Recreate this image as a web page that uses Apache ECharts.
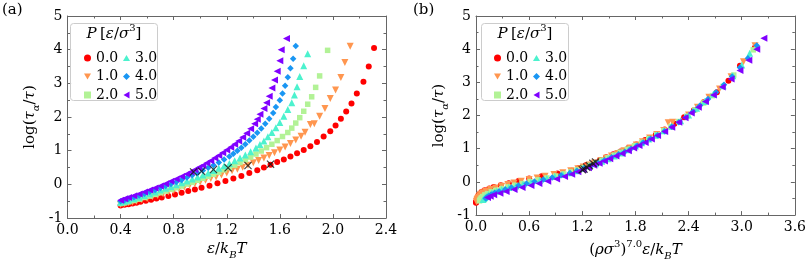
<!DOCTYPE html>
<html><head><meta charset="utf-8">
<script src="https://cdn.jsdelivr.net/npm/echarts@6/dist/echarts.min.js"></script>
<style>html,body{margin:0;padding:0;background:#fff}#c{width:809px;height:266px}</style>
</head><body><div id="c"></div>
<script>
// ---------------- data ----------------
const P_LABELS = ['0.0','1.0','2.0','3.0','4.0','5.0'];

// P = 0.0
const y_P0  = [-0.63,-0.61,-0.59,-0.57,-0.55,-0.52,-0.49,-0.46,-0.42,-0.39,-0.35,-0.30,-0.25,-0.20,-0.15,-0.10,-0.04,0.03,0.10,0.17,0.25,0.34,0.42,0.50,0.58,0.66,0.74,0.83,0.92,1.02,1.13,1.26,1.42,1.58,1.75,1.95,2.16,2.40,2.70,3.05,3.50,4.05];
const xa_P0 = [0.40,0.43,0.46,0.49,0.52,0.55,0.59,0.63,0.67,0.71,0.76,0.81,0.86,0.91,0.96,1.01,1.07,1.13,1.19,1.25,1.31,1.37,1.43,1.48,1.53,1.58,1.63,1.68,1.73,1.78,1.83,1.88,1.93,1.98,2.02,2.06,2.10,2.14,2.18,2.23,2.27,2.31];
const xb_P0 = [0.000,0.002,0.004,0.007,0.009,0.012,0.016,0.019,0.026,0.035,0.045,0.068,0.10,0.15,0.20,0.28,0.37,0.48,0.60,0.74,0.92,1.08,1.16,1.24,1.33,1.40,1.47,1.55,1.63,1.72,1.81,1.91,2.03,2.13,2.24,2.35,2.46,2.57,2.72,2.85,2.98,3.15];
// P = 1.0
const y_P1  = [-0.60,-0.58,-0.55,-0.53,-0.50,-0.46,-0.42,-0.37,-0.33,-0.28,-0.23,-0.18,-0.13,-0.08,-0.03,0.02,0.07,0.12,0.17,0.22,0.28,0.34,0.40,0.45,0.51,0.57,0.64,0.71,0.78,0.86,0.94,1.02,1.11,1.21,1.32,1.43,1.55,1.78,1.80,2.02,2.25,2.55,2.80,3.17,3.62,4.10];
const xa_P1 = [0.40,0.43,0.46,0.49,0.52,0.56,0.60,0.64,0.68,0.72,0.76,0.80,0.84,0.88,0.92,0.96,1.00,1.04,1.08,1.12,1.16,1.20,1.24,1.28,1.32,1.36,1.40,1.44,1.48,1.52,1.56,1.60,1.64,1.68,1.72,1.76,1.79,1.83,1.86,1.90,1.94,1.98,2.02,2.06,2.09,2.13];
const xb_P1 = [0.005,0.008,0.012,0.015,0.02,0.03,0.04,0.055,0.075,0.11,0.16,0.22,0.29,0.36,0.43,0.51,0.60,0.69,0.78,0.88,0.98,1.07,1.15,1.21,1.28,1.34,1.41,1.47,1.53,1.60,1.67,1.74,1.81,1.88,1.96,2.04,2.12,2.17,2.22,2.40,2.50,2.63,2.75,2.88,3.02,3.15];
// P = 2.0
const y_P2  = [-0.57,-0.55,-0.52,-0.48,-0.44,-0.39,-0.35,-0.30,-0.25,-0.20,-0.15,-0.10,-0.05,0.01,0.06,0.12,0.18,0.24,0.30,0.36,0.43,0.50,0.57,0.65,0.73,0.81,0.90,0.99,1.09,1.19,1.30,1.42,1.54,1.67,1.82,1.98,2.17,2.38,2.60,2.88,3.22,3.98];
const xa_P2 = [0.40,0.43,0.46,0.50,0.54,0.58,0.62,0.66,0.70,0.74,0.78,0.82,0.86,0.90,0.94,0.98,1.02,1.06,1.10,1.14,1.18,1.22,1.26,1.30,1.34,1.38,1.42,1.46,1.50,1.54,1.58,1.62,1.66,1.69,1.72,1.75,1.78,1.81,1.84,1.87,1.90,1.96];
const xb_P2 = [0.04,0.045,0.05,0.06,0.075,0.10,0.13,0.17,0.22,0.29,0.36,0.44,0.52,0.61,0.70,0.80,0.90,0.99,1.07,1.14,1.21,1.28,1.35,1.42,1.49,1.56,1.63,1.71,1.79,1.87,1.95,2.04,2.12,2.20,2.29,2.38,2.47,2.57,2.67,2.79,2.91,3.13];
// P = 3.0
const y_P3  = [-0.53,-0.50,-0.47,-0.43,-0.38,-0.33,-0.28,-0.23,-0.17,-0.12,-0.07,-0.01,0.05,0.10,0.16,0.22,0.28,0.34,0.41,0.48,0.55,0.62,0.70,0.78,0.87,0.97,1.08,1.18,1.29,1.41,1.54,1.68,1.84,2.02,2.22,2.42,2.65,2.90,3.20,3.52,3.88];
const xa_P3 = [0.40,0.43,0.46,0.50,0.54,0.58,0.62,0.66,0.70,0.74,0.78,0.82,0.86,0.90,0.94,0.98,1.02,1.06,1.10,1.14,1.18,1.22,1.26,1.30,1.34,1.38,1.42,1.45,1.48,1.51,1.54,1.57,1.60,1.63,1.66,1.69,1.71,1.73,1.75,1.78,1.81];
const xb_P3 = [0.08,0.09,0.10,0.115,0.14,0.18,0.23,0.29,0.37,0.45,0.53,0.62,0.72,0.80,0.89,0.98,1.06,1.13,1.21,1.28,1.35,1.42,1.49,1.56,1.64,1.72,1.80,1.87,1.95,2.03,2.12,2.21,2.31,2.40,2.49,2.58,2.68,2.79,2.90,3.00,3.09];
// P = 4.0
const y_P4  = [-0.50,-0.47,-0.43,-0.38,-0.33,-0.28,-0.22,-0.17,-0.11,-0.05,0.01,0.07,0.13,0.20,0.27,0.34,0.41,0.49,0.57,0.65,0.74,0.83,0.91,1.00,1.09,1.19,1.30,1.41,1.53,1.66,1.80,1.95,2.12,2.30,2.50,2.70,2.93,3.18,3.45,3.73,4.11];
const xa_P4 = [0.40,0.43,0.46,0.50,0.54,0.58,0.62,0.66,0.70,0.74,0.78,0.82,0.86,0.90,0.94,0.98,1.02,1.06,1.10,1.14,1.18,1.22,1.25,1.28,1.31,1.34,1.37,1.40,1.43,1.46,1.49,1.52,1.55,1.57,1.60,1.62,1.64,1.66,1.68,1.70,1.72];
const xb_P4 = [0.11,0.12,0.14,0.17,0.21,0.26,0.33,0.40,0.48,0.57,0.66,0.76,0.86,0.96,1.06,1.14,1.22,1.30,1.38,1.45,1.53,1.61,1.68,1.75,1.82,1.89,1.97,2.05,2.13,2.21,2.29,2.37,2.45,2.53,2.62,2.71,2.80,2.89,2.98,3.07,3.17];
// P = 5.0
const y_P5  = [-0.47,-0.43,-0.39,-0.34,-0.29,-0.23,-0.17,-0.11,-0.05,0.02,0.09,0.16,0.23,0.31,0.37,0.43,0.50,0.56,0.63,0.70,0.78,0.86,0.94,1.02,1.10,1.19,1.29,1.40,1.52,1.65,1.80,1.93,2.08,2.25,2.42,2.62,2.86,3.10,3.36,3.67,4.00,4.33];
const xa_P5 = [0.40,0.43,0.46,0.50,0.54,0.58,0.62,0.66,0.70,0.74,0.78,0.82,0.86,0.90,0.93,0.96,0.99,1.02,1.05,1.08,1.11,1.14,1.17,1.20,1.23,1.26,1.29,1.32,1.35,1.38,1.41,1.43,1.45,1.48,1.50,1.52,1.54,1.56,1.58,1.60,1.61,1.65];
const xb_P5 = [0.13,0.16,0.20,0.27,0.34,0.43,0.52,0.62,0.71,0.81,0.91,1.00,1.08,1.15,1.21,1.27,1.33,1.39,1.45,1.51,1.58,1.65,1.72,1.78,1.84,1.91,1.98,2.05,2.13,2.21,2.29,2.36,2.43,2.51,2.59,2.68,2.78,2.88,2.98,3.08,3.17,3.25];

// crossover markers (x)
const y_X  = [0.37,0.39,0.44,0.49,0.56,0.60];
const xa_X = [0.95,1.01,1.10,1.21,1.36,1.53];
const xb_X = [1.20,1.22,1.25,1.28,1.32,1.35];

// tick labels
const xTicksA = ['0.0','0.4','0.8','1.2','1.6','2.0','2.4'];
const xTicksB = ['0.0','0.6','1.2','1.8','2.4','3.0','3.6'];
const yTicks  = ['-1','0','1','2','3','4','5'];

// ---------------- style ----------------
const Y  = [y_P0,y_P1,y_P2,y_P3,y_P4,y_P5];
const XA = [xa_P0,xa_P1,xa_P2,xa_P3,xa_P4,xa_P5];
const XB = [xb_P0,xb_P1,xb_P2,xb_P3,xb_P4,xb_P5];
const COLORS = ['#ff0000','#ff964f','#b2f296','#4cf2ce','#1996f3','#8000ff'];
const SYMBOLS = ['circle','path://M0,0 L10,0 L5,8.66 Z','rect','path://M5,0 L10,8.66 L0,8.66 Z','diamond','path://M8.66,0 L8.66,10 L0,5 Z'];
const SIZES = [6,7,5.5,7,6.5,7];
const XSYM = 'path://M0,1 L1,0 L5,4 L9,0 L10,1 L6,5 L10,9 L9,10 L5,6 L1,10 L0,9 L4,5 Z';
const FONT = 'DejaVu Serif';
const AX = '#666';

const zip = (xs, ys) => xs.map((x,i)=>[x, ys[i]]);

const series = [];
[0,1].forEach(g=>{
  P_LABELS.forEach((name,i)=>{
    series.push({
      type:'scatter', name, xAxisIndex: g*2, yAxisIndex: g*2,
      data: zip(g===0?XA[i]:XB[i], Y[i]),
      symbol: SYMBOLS[i], symbolSize: SIZES[i],
      itemStyle:{color:COLORS[i], opacity:1}, z: 2
    });
  });
  series.push({
    type:'scatter', name:'x', xAxisIndex:g*2, yAxisIndex:g*2,
    data: zip(g===0?xa_X:xb_X, y_X), symbol: XSYM, symbolSize: 8,
    itemStyle:{color:'#111'}, z: 3
  });
});

const rich = {
  i:{fontStyle:'italic', fontFamily:FONT, fontSize:15, color:'#000', lineHeight:22, verticalAlign:'middle'},
  n:{fontFamily:FONT, fontSize:15, color:'#000', lineHeight:22, verticalAlign:'middle'},
  s:{fontStyle:'italic', fontFamily:FONT, fontSize:10, color:'#000', lineHeight:12, verticalAlign:'bottom'},
  p:{fontFamily:FONT, fontSize:10, color:'#000', lineHeight:12, verticalAlign:'top'}
};

function mkX(grid, max, interval, ticks, name, bottom){
  return {
    type:'value', gridIndex:grid, min:0, max, interval, position: bottom?'bottom':'top',
    axisLine:{show:true, onZero:false, lineStyle:{color:AX, width:1}},
    axisTick:{show:true, inside:true, length:4, lineStyle:{color:AX}},
    minorTick:{show:true, splitNumber:2, length:2.5, lineStyle:{color:AX}},
    splitLine:{show:false},
    axisLabel:{show:bottom, fontFamily:FONT, fontSize:14, color:'#000', margin:5,
      formatter:(v)=>{const k=Math.round(v/interval); return ticks[k]!==undefined?ticks[k]:'';}},
    name: bottom?name:'', nameLocation:'middle', nameGap:20,
    nameTextStyle:{rich}
  };
}
function mkY(grid, left){
  return {
    type:'value', gridIndex:grid, min:-1, max:5, interval:1, position: left?'left':'right',
    axisLine:{show:true, onZero:false, lineStyle:{color:AX, width:1}},
    axisTick:{show:true, inside:true, length:4, lineStyle:{color:AX}},
    minorTick:{show:true, splitNumber:2, length:2.5, lineStyle:{color:AX}},
    splitLine:{show:false},
    axisLabel:{show:left, fontFamily:FONT, fontSize:14, color:'#000', margin:5,
      formatter:(v)=>{const k=Math.round(v+1); return yTicks[k]!==undefined?yTicks[k]:'';}},
    name: left?'{n|log(}{i|τ}{s|α}{n|/}{i|τ}{n|)}':'', nameLocation:'middle', nameGap:26,
    nameTextStyle:{rich}
  };
}

const legendCommon = {
  orient:'vertical', itemWidth:7, itemHeight:7, itemGap:2.5, selectedMode:false, z:20,
  textStyle:{fontFamily:FONT, fontSize:14, color:'#000', lineHeight:16}
};

const option = {
  animation:false,
  backgroundColor:'#fff',
  grid:[
    {left:67.5, top:16, width:318.5, height:202},
    {left:476, top:16, width:319, height:202}
  ],
  xAxis:[
    mkX(0,2.4,0.4,xTicksA,'{i|ε}{n|/}{i|k}{s|B}{i|T}',true),
    mkX(0,2.4,0.4,xTicksA,'',false),
    mkX(1,3.6,0.6,xTicksB,'{n|(}{i|ρσ}{p|3}{n|)}{p|7.0}{i|ε}{n|/}{i|k}{s|B}{i|T}',true),
    mkX(1,3.6,0.6,xTicksB,'',false)
  ],
  yAxis:[ mkY(0,true), mkY(0,false), mkY(1,true), mkY(1,false) ],
  legend:[
    Object.assign({data:P_LABELS.slice(0,3), left:79, top:45}, legendCommon),
    Object.assign({data:P_LABELS.slice(3,6), left:118, top:45}, legendCommon),
    Object.assign({data:P_LABELS.slice(0,3), left:489, top:45}, legendCommon),
    Object.assign({data:P_LABELS.slice(3,6), left:528, top:45}, legendCommon)
  ],
  graphic:[
    {type:'rect', z:10, shape:{x:70.5,y:23.5,width:87,height:77,r:3}, style:{fill:'rgba(255,255,255,0.85)', stroke:'#ccc', lineWidth:1}},
    {type:'rect', z:10, shape:{x:481.5,y:23.5,width:87,height:77,r:3}, style:{fill:'rgba(255,255,255,0.85)', stroke:'#ccc', lineWidth:1}},
    {type:'text', x:114, y:34, z:21, style:{text:'{i|P} {n|[}{i|ε}{n|/}{i|σ}{p|3}{n|]}', rich, align:'center', verticalAlign:'middle'}},
    {type:'text', x:525, y:34, z:21, style:{text:'{i|P} {n|[}{i|ε}{n|/}{i|σ}{p|3}{n|]}', rich, align:'center', verticalAlign:'middle'}},
    {type:'text', x:2, y:3, z:21, style:{text:'(a)', fontFamily:FONT, fontSize:15, fill:'#000'}},
    {type:'text', x:413, y:3, z:21, style:{text:'(b)', fontFamily:FONT, fontSize:15, fill:'#000'}}
  ],
  series
};
const chart = echarts.init(document.getElementById('c'), null, {renderer:'canvas'});
chart.setOption(option);
</script></body></html>
